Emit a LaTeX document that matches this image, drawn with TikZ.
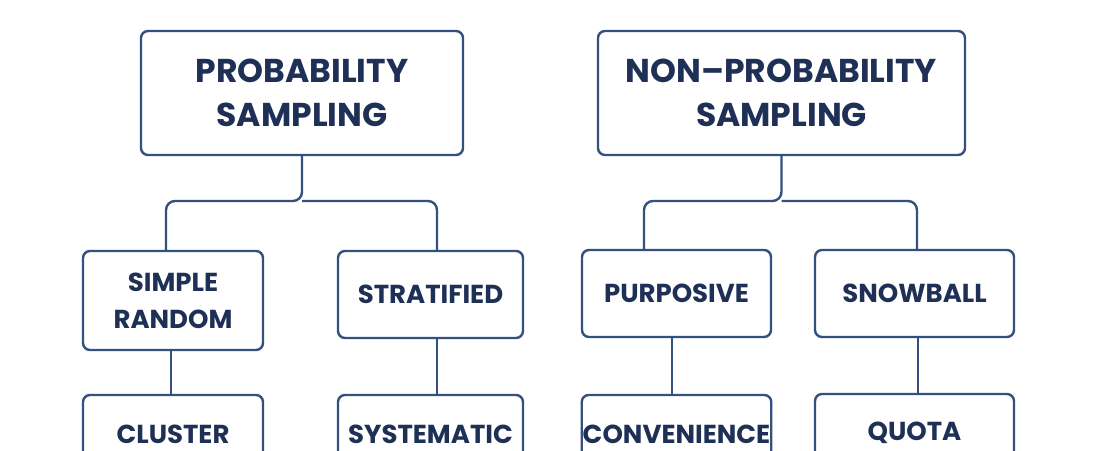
\documentclass[tikz,border=0pt]{standalone}
\usepackage{fontspec}
\setmainfont{Poppins}
\usepackage{xcolor}
\usetikzlibrary{positioning, calc}
\definecolor{edgenavy}{HTML}{34507F}
\definecolor{textnavy}{HTML}{1F3056}
\tikzstyle{headbox} = [rectangle, rounded corners=7pt, minimum width=322pt, minimum height=124pt,
  align=center, draw=edgenavy, fill=white, text=textnavy, line width=2.4pt,
  font=\fontsize{33}{44}\selectfont\bfseries]
\tikzstyle{methodbox} = [rectangle, rounded corners=7pt, minimum width=180pt, minimum height=87pt,
  align=center, draw=edgenavy, fill=white, text=textnavy, line width=2.4pt, inner xsep=1pt,
  font=\fontsize{26}{37}\selectfont\bfseries]
\tikzstyle{link} = [draw=edgenavy, line width=2.4pt, rounded corners=9pt]

\begin{document}
\begin{tikzpicture}[x=1pt, y=-1pt]
  \useasboundingbox (0,0) rectangle (1100,450);
  \clip (0,0) rectangle (1100,450);
  \fill[white] (0,0) rectangle (1100,450);

  % Two families of sampling
  \node (prob)    [headbox] at (302,93) {PROBABILITY\\SAMPLING};
  \node (nonprob) [headbox, minimum width=367pt] at (781.5,93) {NON--PROBABILITY\\SAMPLING};

  % Second row
  \node (simple)    [methodbox, minimum height=99pt] at (173,300.5) {SIMPLE\\RANDOM};
  \node (strat)     [methodbox, minimum width=185pt] at (430.5,294.5) {STRATIFIED};
  \node (purposive) [methodbox, minimum width=189pt] at (676.5,293.5) {PURPOSIVE};
  \node (snowball)  [methodbox, minimum width=199pt] at (914.5,293.5) {SNOWBALL};

  % Third row (cut off by the page edge)
  \node (cluster)     [methodbox, minimum height=78pt] at (173,434) {CLUSTER};
  \node (systematic)  [methodbox, minimum height=78pt, minimum width=185pt] at (430.5,434) {SYSTEMATIC};
  \node (convenience) [methodbox, minimum height=78pt, minimum width=189pt] at (676.5,434) {CONVENIENCE};
  \node (quota)       [methodbox, minimum height=78pt, minimum width=199pt] at (914.5,433) {QUOTA};

  % Branch points
  \coordinate (pbus) at (302,201);
  \coordinate (nbus) at (781.5,201);

  \draw[link] (prob.south) -- (pbus) -| ([xshift=-7pt]simple.north);
  \draw[link] (pbus) -| ([xshift=6.5pt]strat.north);
  \draw[link] (nonprob.south) -- (nbus) -| ([xshift=-32.5pt]purposive.north);
  \draw[link] (nbus) -| ([xshift=2.5pt]snowball.north);

  \draw[link] ([xshift=-2pt]simple.south) -- ([xshift=-2pt]cluster.north);
  \draw[link] ([xshift=6.5pt]strat.south) -- ([xshift=6.5pt]systematic.north);
  \draw[link] ([xshift=-4.5pt]purposive.south) -- ([xshift=-4.5pt]convenience.north);
  \draw[link] ([xshift=3.5pt]snowball.south) -- ([xshift=3.5pt]quota.north);
\end{tikzpicture}
\end{document}
